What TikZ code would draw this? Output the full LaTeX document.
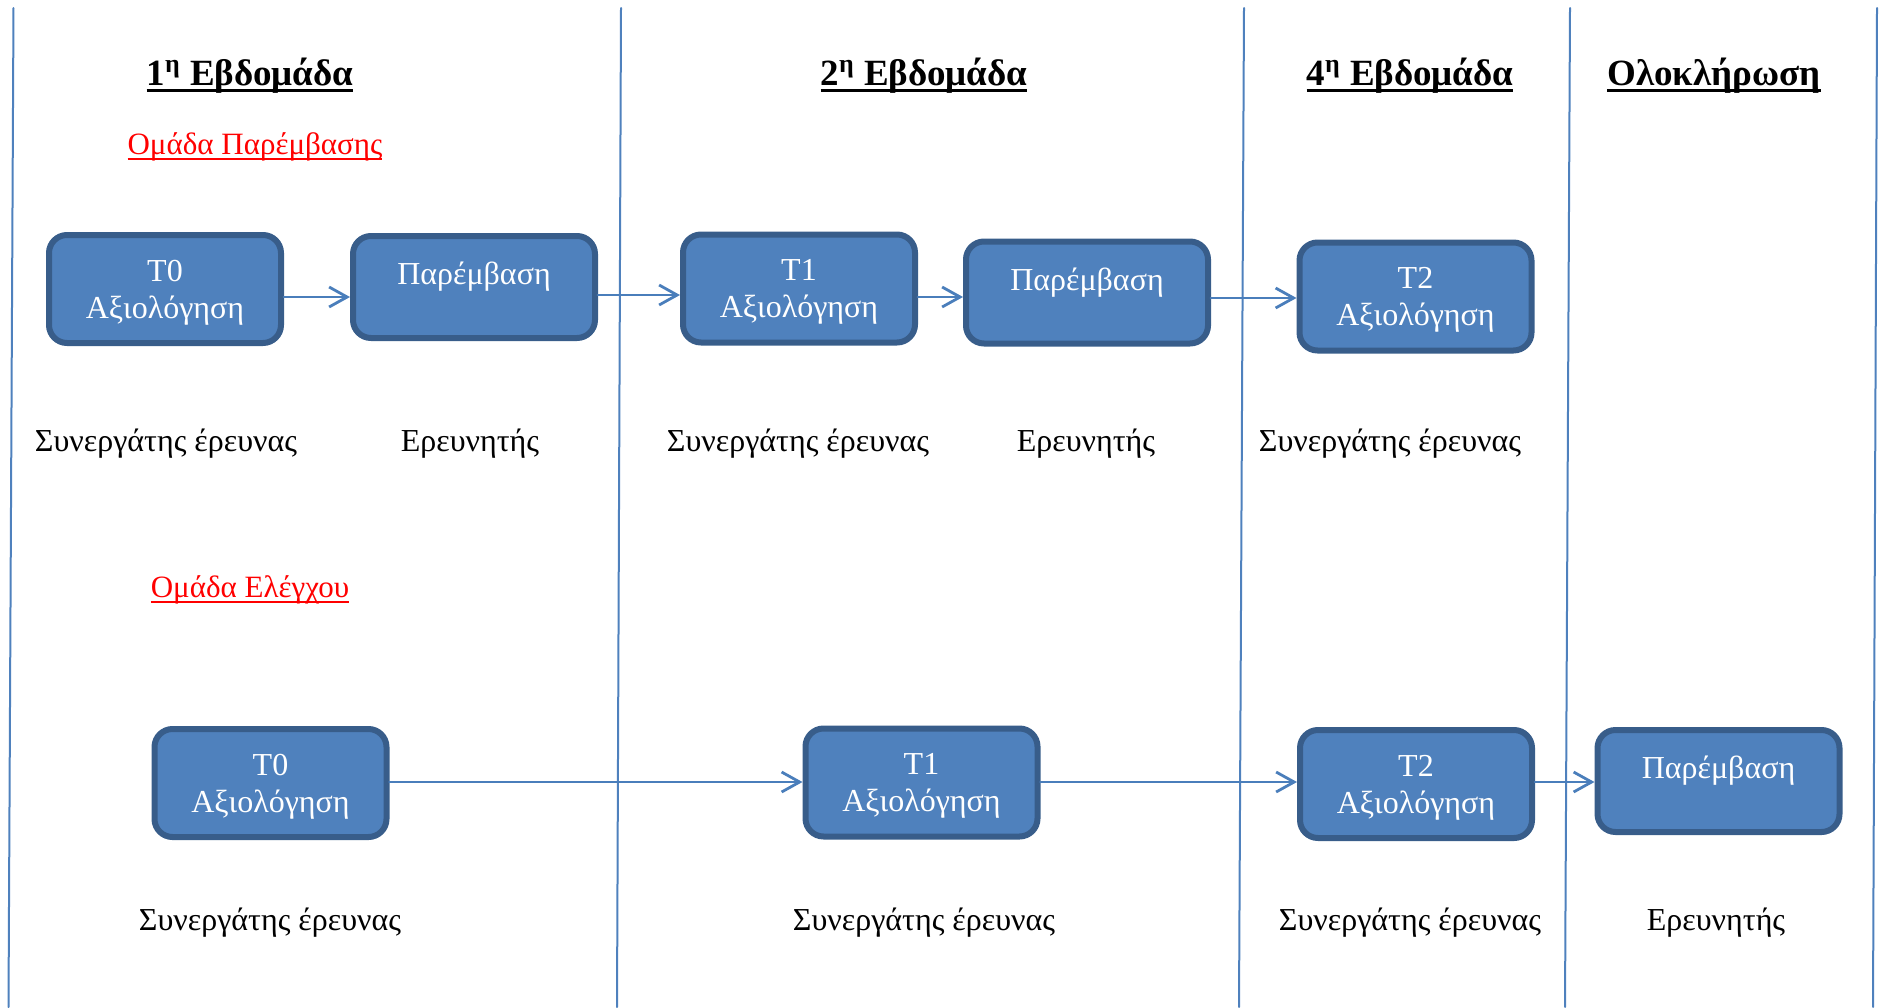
\documentclass[tikz,border=0pt]{standalone}
\usepackage{fontspec}
\setmainfont{Liberation Serif}
\usepackage{xcolor}
\usepackage{tikz}
\usetikzlibrary{arrows.meta,positioning}
\definecolor{boxfill}{HTML}{4F81BD}
\definecolor{boxedge}{HTML}{385D8A}
\definecolor{linkblue}{HTML}{4A7EBB}
\definecolor{gridblue}{HTML}{4F81BD}
\definecolor{groupred}{HTML}{FF0000}
% underlined text with a rule just below the baseline
\newcommand\ulinetext[3]{\setbox0\hbox{#3}\rlap{\rule[-#1]{\wd0}{#2}}\box0}
% box texts (first line pushed down a little)
\newcommand\evaltext[1]{\rule{0pt}{14.2pt}#1\\Αξιολόγηση}
\newcommand\intertxt{\rule{0pt}{21.5pt}Παρέμβαση\\\strut}
\tikzset{
    every picture/.style={line cap=round,line join=round},
    stagebox/.style={draw=boxedge,fill=boxfill,line width=3pt,rounded corners=9pt,
      text=white,align=center,inner sep=2pt,
      font=\fontsize{16}{18.4}\selectfont},
    evalbox/.style={stagebox,minimum width=116pt,minimum height=54pt},
    interbox/.style={stagebox,minimum width=121pt,minimum height=51pt},
    flowarrow/.style={-{Straight Barb[length=9pt,width=10pt]},draw=linkblue,
      line width=1.4pt},
    weekline/.style={draw=gridblue,line width=1pt},
    weekhead/.style={anchor=base,inner sep=0pt,
      font=\fontsize{18.5}{22}\selectfont\bfseries},
    grouplabel/.style={anchor=base,inner sep=0pt,text=groupred,
      font=\fontsize{15.5}{18}\selectfont},
    rolelabel/.style={anchor=base,inner sep=0pt,
      font=\fontsize{16}{18.4}\selectfont}
}
\begin{document}
\begin{tikzpicture}[x=0.5pt,y=-0.5pt]
  \useasboundingbox (0,0) rectangle (1879,1007);
  % week separators
  \draw[weekline] (13.5,8) -- (8.5,1007);
  \draw[weekline] (621,8) -- (617,1007);
  \draw[weekline] (1244,8) -- (1239,1007);
  \draw[weekline] (1570,8) -- (1565,1007);
  \draw[weekline] (1877,8) -- (1873,1007);
  % headings
  \node[weekhead] (h1) at (250,85) {\ulinetext{3.4pt}{1.3pt}{1\textsuperscript{η} Εβδομάδα}};
  \node[weekhead] (h2) at (924,85) {\ulinetext{3.4pt}{1.3pt}{2\textsuperscript{η} Εβδομάδα}};
  \node[weekhead] (h4) at (1410,85) {\ulinetext{3.4pt}{1.3pt}{4\textsuperscript{η} Εβδομάδα}};
  \node[weekhead] (h5) at (1714,85) {\ulinetext{3.4pt}{1.3pt}{Ολοκλήρωση}};
  % intervention group
  \node[grouplabel] (gi) at (255,154) {\ulinetext{3pt}{1pt}{Ομάδα Παρέμβασης}};
  \node[evalbox] (ta0) at (165,289) {\evaltext{T0}};
  \node[interbox] (pa1) at (474,287) {\intertxt};
  \node[evalbox] (ta1) at (799,288.5) {\evaltext{T1}};
  \node[interbox] (pa2) at (1087,292.5) {\intertxt};
  \node[evalbox] (ta2) at (1415.5,296.5) {\evaltext{T2}};
  \draw[flowarrow] ([yshift=-4pt]ta0.east) -- ([yshift=-5pt]pa1.west);
  \draw[flowarrow] ([yshift=-4pt]pa1.east) -- ([yshift=-3.25pt]ta1.west);
  \draw[flowarrow] ([yshift=-4.25pt]ta1.east) -- ([yshift=-2.25pt]pa2.west);
  \draw[flowarrow] ([yshift=-2.75pt]pa2.east) -- ([yshift=-0.75pt]ta2.west);
  \node[rolelabel] (ra0) at (166,451) {Συνεργάτης έρευνας};
  \node[rolelabel] (rp1) at (470,451) {Ερευνητής};
  \node[rolelabel] (ra1) at (798,451) {Συνεργάτης έρευνας};
  \node[rolelabel] (rp2) at (1086,451) {Ερευνητής};
  \node[rolelabel] (ra2) at (1390,451) {Συνεργάτης έρευνας};
  % control group
  \node[grouplabel] (gc) at (250,597) {\ulinetext{3pt}{1pt}{Ομάδα Ελέγχου}};
  \node[evalbox] (tb0) at (270.5,783) {\evaltext{T0}};
  \node[evalbox] (tb1) at (921.5,782.5) {\evaltext{T1}};
  \node[evalbox] (tb2) at (1416,784) {\evaltext{T2}};
  \node[interbox] (pb) at (1718.5,781) {\intertxt};
  \draw[flowarrow] ([yshift=0.5pt]tb0.east) -- ([yshift=0.25pt]tb1.west);
  \draw[flowarrow] ([yshift=0.25pt]tb1.east) -- ([yshift=1pt]tb2.west);
  \draw[flowarrow] ([yshift=1pt]tb2.east) -- ([yshift=-0.5pt]pb.west);
  \node[rolelabel] (rb0) at (270,930) {Συνεργάτης έρευνας};
  \node[rolelabel] (rb1) at (924,930) {Συνεργάτης έρευνας};
  \node[rolelabel] (rb2) at (1410,930) {Συνεργάτης έρευνας};
  \node[rolelabel] (rpb) at (1716,930) {Ερευνητής};
\end{tikzpicture}
\end{document}
